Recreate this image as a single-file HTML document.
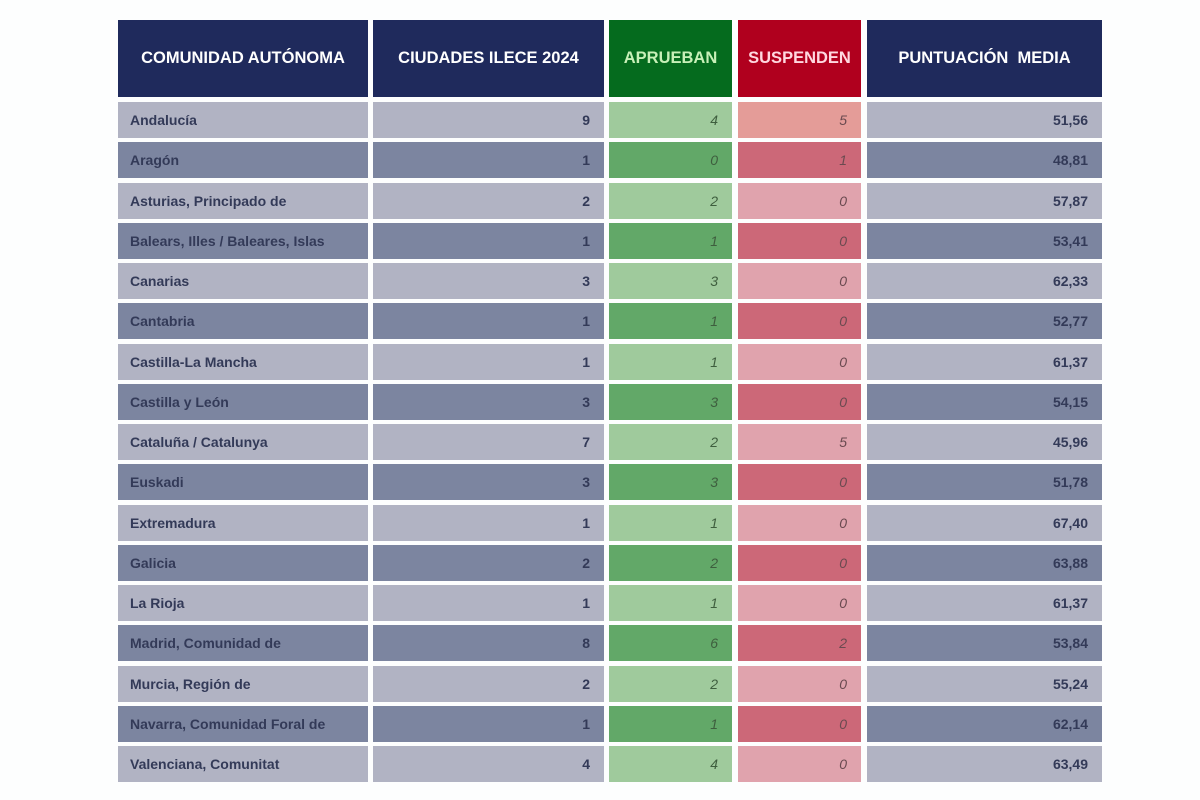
<!DOCTYPE html>
<html><head><meta charset="utf-8"><style>
body{margin:0;width:1200px;height:800px;background:#fdfefe;font-family:"Liberation Sans",sans-serif;position:relative;overflow:hidden}
.c{position:absolute;box-sizing:border-box;font-size:14px;font-weight:bold;color:#333a58;display:flex;align-items:center}
.h{color:#fff;font-weight:bold;font-size:16.5px;justify-content:center}
</style></head><body>
<div id="t"></div>
<script>
const regions=["Andalucía","Aragón","Asturias, Principado de","Balears, Illes / Baleares, Islas","Canarias","Cantabria","Castilla-La Mancha","Castilla y León","Cataluña / Catalunya","Euskadi","Extremadura","Galicia","La Rioja","Madrid, Comunidad de","Murcia, Región de","Navarra, Comunidad Foral de","Valenciana, Comunitat"];
const cities=[9,1,2,1,3,1,1,3,7,3,1,2,1,8,2,1,4];
const pass=[4,0,2,1,3,1,1,3,2,3,1,2,1,6,2,1,4];
const fail=[5,1,0,0,0,0,0,0,5,0,0,0,0,2,0,0,0];
const score=["51,56","48,81","57,87","53,41","62,33","52,77","61,37","54,15","45,96","51,78","67,40","63,88","61,37","53,84","55,24","62,14","63,49"];
const headers=["COMUNIDAD AUTÓNOMA","CIUDADES ILECE 2024","APRUEBAN","SUSPENDEN","PUNTUACIÓN  MEDIA"];
const cols=[[118,250],[373,231],[609,123],[738,123],[867,235]];
const hbg=["#1f2a5c","#1f2a5c","#056b1e","#b0001e","#1f2a5c"];
const t=document.getElementById('t');
function cell(x,y,w,h,bg,txt,cls,name){const d=document.createElement('div');d.className='c '+cls;d.style.cssText=`left:${x}px;top:${y}px;width:${w}px;height:${h}px;background:${bg}`;d.textContent=txt;


t.appendChild(d);return d;}
headers.forEach((s,i)=>{const d=cell(cols[i][0],20,cols[i][1],77,hbg[i],s,'h','header-'+i);if(i==2)d.style.color='#c8f0b8';if(i==3)d.style.color='#ffd8e0';d.style.whiteSpace='pre';});
regions.forEach((r,k)=>{const y=102+k*40.25,h=36,dark=k%2==1;
const g=dark?"#7c85a0":"#b1b3c3";
let d=cell(cols[0][0],y,cols[0][1],h,g,r,'','region-'+k);d.style.paddingLeft='12px';
d=cell(cols[1][0],y,cols[1][1],h,g,cities[k],'','cities-'+k);d.style.justifyContent='flex-end';d.style.paddingRight='14px';
d=cell(cols[2][0],y,cols[2][1],h,dark?"#62a868":"#9fca9c",pass[k],'','pass-'+k);d.style.cssText+=';justify-content:flex-end;padding-right:14px;font-style:italic;font-weight:normal;color:#3e5e3e';
d=cell(cols[3][0],y,cols[3][1],h,dark?"#cc6878":(k==0?"#e49c98":"#e0a3ad"),fail[k],'','fail-'+k);d.style.cssText+=';justify-content:flex-end;padding-right:14px;font-style:italic;font-weight:normal;color:#6a4a50';
d=cell(cols[4][0],y,cols[4][1],h,g,score[k],'','score-'+k);d.style.justifyContent='flex-end';d.style.paddingRight='14px';
});
</script></body></html>
